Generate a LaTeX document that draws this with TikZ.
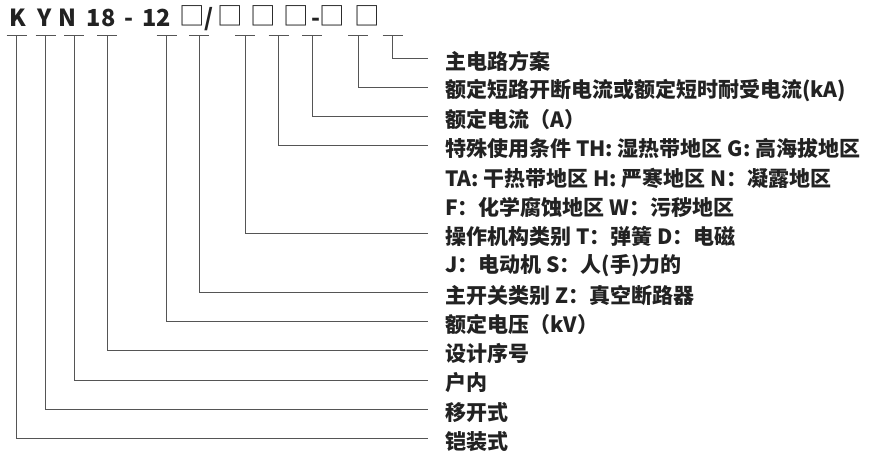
\documentclass[tikz,border=0pt]{standalone}
\usepackage{fontspec}
\newfontfamily\cjk{Noto Sans CJK SC}
\usetikzlibrary{positioning,calc}
\definecolor{codeink}{HTML}{222222}
\definecolor{leadgray}{HTML}{555555}
\tikzset{
  codechar/.style={
    anchor=base, inner sep=0pt, text=codeink,
    font=\cjk\bfseries\fontsize{23.5}{26}\selectfont
  },
  codebox/.style={
    anchor=base, inner sep=0pt, text=codeink,
    font=\cjk\fontsize{25.5}{28}\selectfont
  },
  keylabel/.style={
    anchor=west, inner sep=0pt, text=codeink,
    font=\cjk\bfseries\fontsize{21}{24}\selectfont
  },
  leadline/.style={draw=leadgray, line width=0.9pt},
}

\begin{document}
\begin{tikzpicture}[x=1pt, y=-1pt]
  \useasboundingbox (0,0) rectangle (891,471);

  % Model code
  \node[codechar] (cK)  at (18,27)    {K};
  \node[codechar] (cY)  at (44.5,27)  {Y};
  \node[codechar] (cN)  at (67,27)    {N};
  \node[codechar] (c18) at (101,27)   {18};
  \node[codechar] (cd1) at (129,27)   {-};
  \node[codechar] (c12) at (156.5,27) {12};
  \node[codebox]  (b1)  at (192.7,25.5) {□};
  \node[codechar] (csl) at (209,27)   {/};
  \node[codebox]  (b2)  at (230,25.5) {□};
  \node[codebox]  (b3)  at (263,25.5) {□};
  \node[codebox]  (b4)  at (296,25.5) {□};
  \node[codechar] (cd2) at (316,27)   {-};
  \node[codebox]  (b5)  at (332,25.5) {□};
  \node[codebox]  (b6)  at (367,25.5) {□};

  % Tick points under the code
  \coordinate (t1)  at (16.7,35);
  \coordinate (t2)  at (45.7,35);
  \coordinate (t3)  at (74.3,35);
  \coordinate (t4)  at (107.3,35);
  \coordinate (t5)  at (166.7,35);
  \coordinate (t6)  at (199.3,35);
  \coordinate (t7)  at (245,35);
  \coordinate (t8)  at (278.7,35);
  \coordinate (t9)  at (312.3,35);
  \coordinate (t10) at (358.3,35);
  \coordinate (t11) at (392.7,35);

  % Key labels
  \node[keylabel] (k1)  at (445,61)    {主电路方案};
  \node[keylabel] (k2)  at (445,90.3)  {额定短路开断电流或额定短时耐受电流(kA)};
  \node[keylabel] (k3)  at (445,119.5) {额定电流（A）};
  \node[keylabel] (k4)  at (445,148.8) {特殊使用条件 TH: 湿热带地区 G: 高海拔地区};
  \node[keylabel] (k5)  at (445,178.1) {TA: 干热带地区 H: 严寒地区 N：凝露地区};
  \node[keylabel] (k6)  at (445,207.4) {F：化学腐蚀地区 W：污秽地区};
  \node[keylabel] (k7)  at (445,236.6) {操作机构类别 T：弹簧 D：电磁};
  \node[keylabel] (k8)  at (445,265.9) {J：电动机 S：人(手)力的};
  \node[keylabel] (k9)  at (445,295.2) {主开关类别 Z：真空断路器};
  \node[keylabel] (k10) at (445,324.4) {额定电压（kV）};
  \node[keylabel] (k11) at (445,353.7) {设计序号};
  \node[keylabel] (k12) at (445,383)   {户内};
  \node[keylabel] (k13) at (445,412.2) {移开式};
  \node[keylabel] (k14) at (445,441.5) {铠装式};

  % Tick bars
  \draw[leadline] ([xshift=-10pt]t1)  -- ([xshift=10pt]t1);
  \draw[leadline] ([xshift=-10pt]t2)  -- ([xshift=10pt]t2);
  \draw[leadline] ([xshift=-10pt]t3)  -- ([xshift=10pt]t3);
  \draw[leadline] ([xshift=-10pt]t4)  -- ([xshift=10pt]t4);
  \draw[leadline] ([xshift=-10pt]t5)  -- ([xshift=10pt]t5);
  \draw[leadline] ([xshift=-10pt]t6)  -- ([xshift=10pt]t6);
  \draw[leadline] ([xshift=-10pt]t7)  -- ([xshift=10pt]t7);
  \draw[leadline] ([xshift=-10pt]t8)  -- ([xshift=10pt]t8);
  \draw[leadline] ([xshift=-10pt]t9)  -- ([xshift=10pt]t9);
  \draw[leadline] ([xshift=-10pt]t10) -- ([xshift=10pt]t10);
  \draw[leadline] ([xshift=-10pt]t11) -- ([xshift=10pt]t11);

  % Leaders
  \draw[leadline] (t11) |- ([shift={(-17,-3)}]k1.west);
  \draw[leadline] (t10) |- ([shift={(-17,-3)}]k2.west);
  \draw[leadline] (t9)  |- ([shift={(-17,-3)}]k3.west);
  \draw[leadline] (t8)  |- ([shift={(-17,-3)}]k4.west);
  \draw[leadline] (t7)  |- ([shift={(-17,-3)}]k7.west);
  \draw[leadline] (t6)  |- ([shift={(-17,-3)}]k9.west);
  \draw[leadline] (t5)  |- ([shift={(-17,-3)}]k10.west);
  \draw[leadline] (t4)  |- ([shift={(-17,-3)}]k11.west);
  \draw[leadline] (t3)  |- ([shift={(-17,-3)}]k12.west);
  \draw[leadline] (t2)  |- ([shift={(-17,-3)}]k13.west);
  \draw[leadline] (t1)  |- ([shift={(-17,-3)}]k14.west);
\end{tikzpicture}
\end{document}
